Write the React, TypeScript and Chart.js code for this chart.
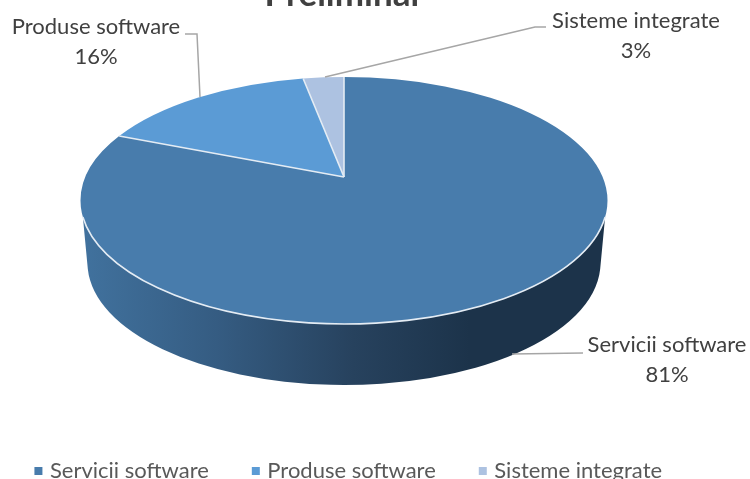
import React, { useEffect, useRef } from "react";
import { Chart, registerables } from "chart.js";

Chart.register(...registerables);

const categories = ["Servicii software", "Produse software", "Sisteme integrate"];
const shares = [81, 16, 3];
const sliceColors = ["#487CAC", "#5B9BD5", "#ADC2E1"];
const chartTitle = "Preliminar";

// 3D look of the pie
const TOP = { cx: 344, cy: 200.5, rx: 263.5, ry: 123.5 };
const BASE = { cx: 344, cy: 263, rx: 256.5, ry: 122 };
const APEX_SHIFT = -0.19;
const FONT = "Lato, Carlito, sans-serif";
const TEXT = "#404040";
const LEADER = "#A6A6A6";

const labelPlacement = [
  { x: 667, y: 345, line: [[512, 354], [583, 353]] },
  { x: 96, y: 27, line: [[185, 34], [197, 34], [200, 97]] },
  { x: 636, y: 21, line: [[325, 77], [535, 27], [546, 27]] },
];

function project(angle: number) {
  const x = Math.cos(angle);
  const y = Math.sin(angle);
  const d = 1 + APEX_SHIFT * y;
  return {
    u: (x * Math.sqrt(1 - APEX_SHIFT * APEX_SHIFT)) / d,
    v: (y + APEX_SHIFT) / d,
  };
}

const pie3d = {
  id: "pie3d",
  afterLayout(chart: any) {
    chart.titleBlock.left -= 31;
    chart.titleBlock.right -= 31;
    chart.legend.left -= 25;
    chart.legend.right -= 25;
    chart.legend.top += 13;
  },
  beforeDatasetsDraw(chart: any) {
    const ctx = chart.ctx as CanvasRenderingContext2D;
    const arcs = chart.getDatasetMeta(0).data;
    const apex = { x: TOP.cx, y: TOP.cy + APEX_SHIFT * TOP.ry };
    const rimStart = (7.7 * Math.PI) / 180;
    const rimEnd = (172.3 * Math.PI) / 180;

    ctx.save();
    // side wall
    const grad = ctx.createLinearGradient(TOP.cx - TOP.rx, 0, 470, 0);
    grad.addColorStop(0, "#41729E");
    grad.addColorStop(0.35, "#355C82");
    grad.addColorStop(0.7, "#27425E");
    grad.addColorStop(1, "#1C334A");
    ctx.beginPath();
    ctx.ellipse(TOP.cx, TOP.cy, TOP.rx, TOP.ry, 0, rimEnd, rimStart, true);
    ctx.ellipse(BASE.cx, BASE.cy, BASE.rx, BASE.ry, 0, 0.05, Math.PI - 0.05, false);
    ctx.closePath();
    ctx.fillStyle = grad;
    ctx.fill();

    // top face, from the angles computed by the pie controller
    arcs.forEach((arc: any, i: number) => {
      const a = project(arc.startAngle);
      const b = project(arc.endAngle);
      ctx.beginPath();
      ctx.moveTo(apex.x, apex.y);
      ctx.lineTo(TOP.cx + a.u * TOP.rx, TOP.cy + a.v * TOP.ry);
      ctx.ellipse(TOP.cx, TOP.cy, TOP.rx, TOP.ry, 0, Math.atan2(a.v, a.u), Math.atan2(b.v, b.u), false);
      ctx.closePath();
      ctx.fillStyle = sliceColors[i];
      ctx.fill();
    });

    // slice edges
    ctx.strokeStyle = "#E4ECF4";
    ctx.lineWidth = 1.6;
    arcs.forEach((arc: any) => {
      const a = project(arc.startAngle);
      ctx.beginPath();
      ctx.moveTo(apex.x, apex.y);
      ctx.lineTo(TOP.cx + a.u * TOP.rx, TOP.cy + a.v * TOP.ry);
      ctx.stroke();
    });
    ctx.beginPath();
    ctx.ellipse(TOP.cx, TOP.cy, TOP.rx, TOP.ry, 0, rimStart, rimEnd, false);
    ctx.stroke();

    // leader lines and data labels
    const total = shares.reduce((s, v) => s + v, 0);
    ctx.strokeStyle = LEADER;
    ctx.lineWidth = 1.5;
    ctx.fillStyle = TEXT;
    ctx.font = `22px ${FONT}`;
    ctx.textAlign = "center";
    ctx.textBaseline = "middle";
    labelPlacement.forEach((p, i) => {
      ctx.beginPath();
      p.line.forEach(([x, y], k) => (k ? ctx.lineTo(x, y) : ctx.moveTo(x, y)));
      ctx.stroke();
      ctx.fillText(categories[i], p.x, p.y);
      ctx.fillText(`${Math.round((shares[i] / total) * 100)}%`, p.x, p.y + 30);
    });
    ctx.restore();
    return false;
  },
};

export default function App() {
  const ref = useRef<HTMLCanvasElement>(null);
  useEffect(() => {
    const chart = new Chart(ref.current!, {
      type: "pie",
      data: {
        labels: categories,
        datasets: [{ data: shares, backgroundColor: sliceColors, borderWidth: 0 }],
      },
      options: {
        animation: false,
        responsive: false,
        plugins: {
          tooltip: { enabled: false },
          title: {
            display: true,
            text: chartTitle,
            color: TEXT,
            font: { family: FONT, size: 35, weight: "bold" },
            padding: { top: -26, bottom: 0 },
          },
          legend: {
            position: "bottom",
            labels: {
              color: "#595959",
              font: { family: FONT, size: 22 },
              usePointStyle: true,
              pointStyle: "rect",
              boxWidth: 1,
              boxHeight: 8,
              padding: 46.5,
            },
          },
        },
      },
      plugins: [pie3d],
    } as any);
    return () => chart.destroy();
  }, []);
  return (
    <div style={{ position: "absolute", left: 0, top: 0, width: 750, height: 479, background: "#fff" }}>
      <canvas ref={ref} width={750} height={479} style={{ display: "block" }} />
    </div>
  );
}
